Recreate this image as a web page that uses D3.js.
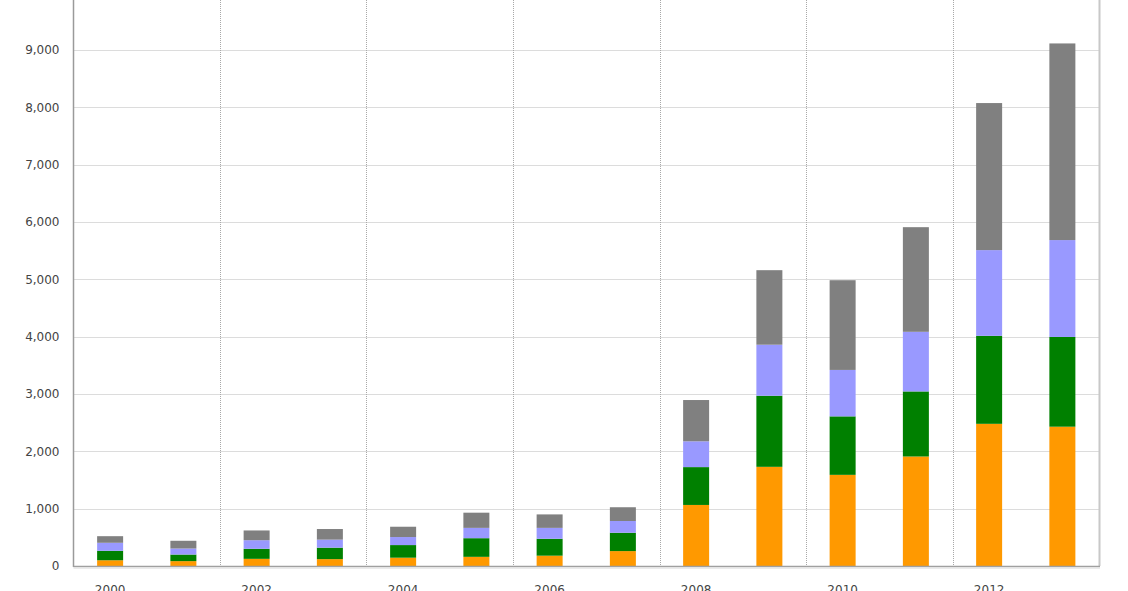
<!DOCTYPE html>
<html>
<head>
<meta charset="utf-8">
<script src="https://cdnjs.cloudflare.com/ajax/libs/d3/7.8.5/d3.min.js"></script>
<style>
  html, body { margin: 0; padding: 0; background: #fff; overflow: hidden; }
  svg { display: block; }
  .tick text { font-family: "DejaVu Sans", Verdana, sans-serif; font-size: 12px; fill: #444; }
</style>
</head>
<body>
<svg id="chart" width="1128" height="591"></svg>
<script>
// data
const years = [2000, 2001, 2002, 2003, 2004, 2005, 2006, 2007, 2008, 2009, 2010, 2011, 2012, 2013]
const orange = [100, 85, 125, 120, 145, 160, 180, 260, 1065, 1730, 1590, 1910, 2480, 2430]
const green  = [165, 115, 175, 200, 220, 325, 295, 320, 660, 1240, 1020, 1135, 1535, 1565]
const purple = [140, 105, 150, 140, 140, 180, 190, 205, 450, 890, 810, 1040, 1495, 1690]
const gray   = [115, 135, 170, 185, 180, 265, 235, 240, 720, 1300, 1565, 1825, 2565, 3430]
const yTicks = [0, 1000, 2000, 3000, 4000, 5000, 6000, 7000, 8000, 9000]
const xTickYears = [2000, 2002, 2004, 2006, 2008, 2010, 2012]

const seriesKeys = ['orange', 'green', 'purple', 'gray']
const colors = { orange: '#ff9900', green: '#008000', purple: '#9999ff', gray: '#808080' }

const table = years.map((y, i) => ({
  year: y, orange: orange[i], green: green[i], purple: purple[i], gray: gray[i]
}))

const left = 73.5, right = 1099, base = 566

const svg = d3.select('#chart')

const xScale = d3.scaleBand()
  .domain(years)
  .range([left, right])
  .paddingInner(0.645)
  .paddingOuter(0.3225)

const yScale = d3.scaleLinear()
  .domain([0, 10000])
  .range([base, base - 573.3])

// horizontal grid
svg.append('g')
  .selectAll('line')
  .data(yTicks.concat([10000]))
  .join('line')
  .attr('x1', left).attr('x2', right)
  .attr('y1', d => Math.round(yScale(d)) + 0.5)
  .attr('y2', d => Math.round(yScale(d)) + 0.5)
  .attr('stroke', '#dcdcdc')
  .attr('stroke-width', 1)

// vertical grid at the start of every other year
const step = xScale.step()
const vx = xTickYears.slice(1).map(y => xScale(y) - xScale.paddingInner() * step / 2)
svg.append('g')
  .selectAll('line')
  .data(vx)
  .join('line')
  .attr('x1', d => Math.round(d) + 0.5).attr('x2', d => Math.round(d) + 0.5)
  .attr('y1', 0).attr('y2', base)
  .attr('stroke', '#a8a8a8')
  .attr('stroke-dasharray', '1,1')

// right border
svg.append('line')
  .attr('x1', right + 0.5).attr('x2', right + 0.5)
  .attr('y1', 0).attr('y2', base)
  .attr('stroke', '#c8c8c8')
  .attr('stroke-width', 2)

// stacked bars
const stack = d3.stack().keys(seriesKeys)
const layers = stack(table)

svg.append('g')
  .selectAll('g')
  .data(layers)
  .join('g')
  .attr('fill', d => colors[d.key])
  .selectAll('rect')
  .data(d => d)
  .join('rect')
  .attr('x', d => xScale(d.data.year))
  .attr('width', xScale.bandwidth())
  .attr('y', d => yScale(d[1]))
  .attr('height', d => yScale(d[0]) - yScale(d[1]))

// axes
const yAxis = d3.axisLeft(yScale)
  .tickValues(yTicks)
  .tickFormat(d3.format(','))
  .tickSize(0)
  .tickPadding(14)
svg.append('g')
  .attr('transform', `translate(${left},0)`)
  .call(yAxis)
  .call(g => g.select('.domain').remove())

const xAxis = d3.axisBottom(xScale)
  .tickValues(xTickYears)
  .tickSize(0)
  .tickPadding(19)
svg.append('g')
  .attr('transform', `translate(0,${base})`)
  .call(xAxis)
  .call(g => g.select('.domain').remove())

// axis lines
svg.append('line')
  .attr('x1', left).attr('x2', left)
  .attr('y1', 0).attr('y2', base + 1)
  .attr('stroke', '#9a9a9a')
  .attr('stroke-width', 1.5)
svg.append('line')
  .attr('x1', left).attr('x2', right + 1)
  .attr('y1', base + 0.5).attr('y2', base + 0.5)
  .attr('stroke', '#a0a0a0')
  .attr('stroke-width', 1.5)
svg.append('line')
  .attr('x1', left).attr('x2', right + 1)
  .attr('y1', base + 2).attr('y2', base + 2)
  .attr('stroke', '#e4e4e4')
  .attr('stroke-width', 1.5)
</script>
</body>
</html>
